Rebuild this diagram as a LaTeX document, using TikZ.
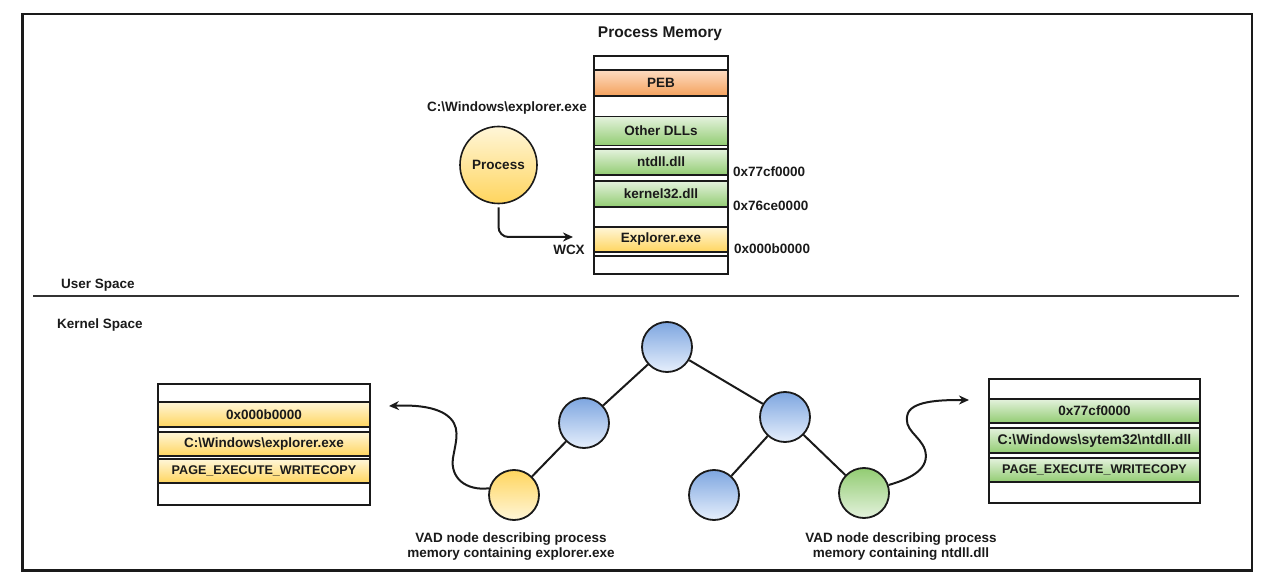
\documentclass[tikz,border=0pt]{standalone}
\usepackage{fontspec}
\setmainfont{Liberation Sans}
\usetikzlibrary{arrows.meta}
\definecolor{ink}{HTML}{1A1A1A}
\definecolor{gtop}{HTML}{E4F2DD}
\definecolor{gbot}{HTML}{92CC72}
\definecolor{ytop}{HTML}{FFF6D8}
\definecolor{ybot}{HTML}{FFD55E}
\definecolor{otop}{HTML}{FDDCC2}
\definecolor{obot}{HTML}{F4A15C}
\definecolor{btop}{HTML}{7EA6E0}
\definecolor{bbot}{HTML}{E6EFFC}
\begin{document}
\begin{tikzpicture}[x=1bp,y=-1bp,
  every node/.style={font=\fontsize{13.5bp}{15bp}\selectfont\bfseries, text=ink},
  lbl/.style={inner sep=0pt},
  memframe/.style={draw=ink, line width=2bp, inner sep=0pt},
  bar/.style={draw=ink, line width=1.3bp, inner sep=0pt},
  gbar/.style={bar, top color=gtop, bottom color=gbot},
  ybar/.style={bar, top color=ytop, bottom color=ybot},
  obar/.style={bar, top color=otop, bottom color=obot},
  vad/.style={circle, draw=ink, line width=1.8bp, minimum size=50bp, inner sep=0pt},
  bvad/.style={vad, top color=btop, bottom color=bbot},
  edge/.style={draw=ink, line width=2bp},
  arr/.style={draw=ink, line width=2bp, -{Stealth[length=10bp,width=9bp]}}
]
\useasboundingbox (0,0) rectangle (1268,582);
% outer frame and divider
\draw[ink, line width=2.8bp] (22.5,14) rectangle (1252,570.5);
\draw[black!80, line width=2.2bp] (33,296) -- (1239,296);
\node[lbl, anchor=west] (us) at (61,285) {User Space};
\node[lbl, anchor=west] (ks) at (57,325) {Kernel Space};

% process memory
\node[lbl, font=\fontsize{15.5bp}{17bp}\selectfont\bfseries] (title) at (660,34) {Process Memory};
\node[memframe, minimum width=134bp, minimum height=218bp] (mem) at (661,165) {};
\node[obar, minimum width=134bp, minimum height=26bp] (peb) at (661,83) {PEB};
\node[gbar, minimum width=134bp, minimum height=29bp] (odll) at (661,131) {Other DLLs};
\node[gbar, minimum width=134bp, minimum height=26bp] (ntdll) at (661,162) {ntdll.dll};
\node[gbar, minimum width=134bp, minimum height=26bp] (k32) at (661,194) {kernel32.dll};
\node[ybar, minimum width=134bp, minimum height=25bp] (exe) at (661,239.5) {Explorer.exe};
\coordinate (ml) at (594,256);
\coordinate (mr) at (728,256);
\draw[ink, line width=1.3bp] (ml) -- (mr);
\node[lbl, anchor=west] (a1) at (733,172) {0x77cf0000};
\node[lbl, anchor=west] (a2) at (733,206) {0x76ce0000};
\node[lbl, anchor=west] (a3) at (734,249) {0x000b0000};

% process
\node[lbl, anchor=east] (path) at (587,108) {C:\textbackslash Windows\textbackslash explorer.exe};
\node[circle, draw=ink, line width=1.6bp, minimum size=77bp, inner sep=0pt, top color=ytop, bottom color=ybot] (proc) at (498.5,165) {Process};
\coordinate (wt) at (573,237);
\draw[arr, rounded corners=10bp, shorten <=3bp] (proc.south) |- (wt);
\node[lbl] (wcx) at (569,250) {WCX};

% VAD tree
\node[bvad] (root) at (667,347) {};
\node[bvad] (lc) at (584,423) {};
\node[bvad] (rc) at (785,417) {};
\node[vad, top color=ybot, bottom color=ytop] (yl) at (514,495) {};
\node[bvad] (bl) at (714,495) {};
\node[vad, top color=gbot, bottom color=gtop] (gl) at (864,493) {};
\draw[edge] (root) -- (lc);
\draw[edge] (root) -- (rc);
\draw[edge] (lc) -- (yl);
\draw[edge] (rc) -- (bl);
\draw[edge] (rc) -- (gl);

\node[lbl, align=center] (yltxt) at (511,547) {VAD node describing process\\memory containing explorer.exe};
\node[lbl, align=center] (gltxt) at (901,547) {VAD node describing process\\memory containing ntdll.dll};

% left VAD record
\node[memframe, minimum width=212bp, minimum height=121bp] (lbox) at (264,444.5) {};
\node[ybar, minimum width=212bp, minimum height=25bp] (lb1) at (264,414.5) {0x000b0000};
\node[ybar, minimum width=212bp, minimum height=24bp] (lb2) at (264,444) {C:\textbackslash Windows\textbackslash explorer.exe};
\node[ybar, minimum width=212bp, minimum height=24bp, font=\fontsize{12.6bp}{14bp}\selectfont\bfseries] (lb3) at (264,471) {PAGE\_EXECUTE\_WRITECOPY};

% right VAD record
\node[memframe, minimum width=211bp, minimum height=123bp] (rbox) at (1094.5,441) {};
\node[gbar, minimum width=211bp, minimum height=24bp] (rb1) at (1094.5,411) {0x77cf0000};
\node[gbar, minimum width=211bp, minimum height=25bp, font=\fontsize{14bp}{15bp}\selectfont\bfseries] (rb2) at (1094.5,440.5) {C:\textbackslash Windows\textbackslash sytem32\textbackslash ntdll.dll};
\node[gbar, minimum width=211bp, minimum height=24bp, font=\fontsize{12.6bp}{14bp}\selectfont\bfseries] (rb3) at (1094.5,470) {PAGE\_EXECUTE\_WRITECOPY};

% curvy arrows
\coordinate (lt) at (389,406);
\coordinate (rt) at (969,400);
\draw[arr] (yl.165) .. controls (466,491) and (450,478) .. (453,458)
  .. controls (456,440) and (462,425) .. (445,414)
  .. controls (432,406) and (412,405) .. (lt);
\draw[arr] (gl.18) .. controls (913,478) and (930,468) .. (925,450)
  .. controls (920,435) and (902,430) .. (908,413)
  .. controls (914,400) and (945,400) .. (rt);
\end{tikzpicture}
\end{document}
